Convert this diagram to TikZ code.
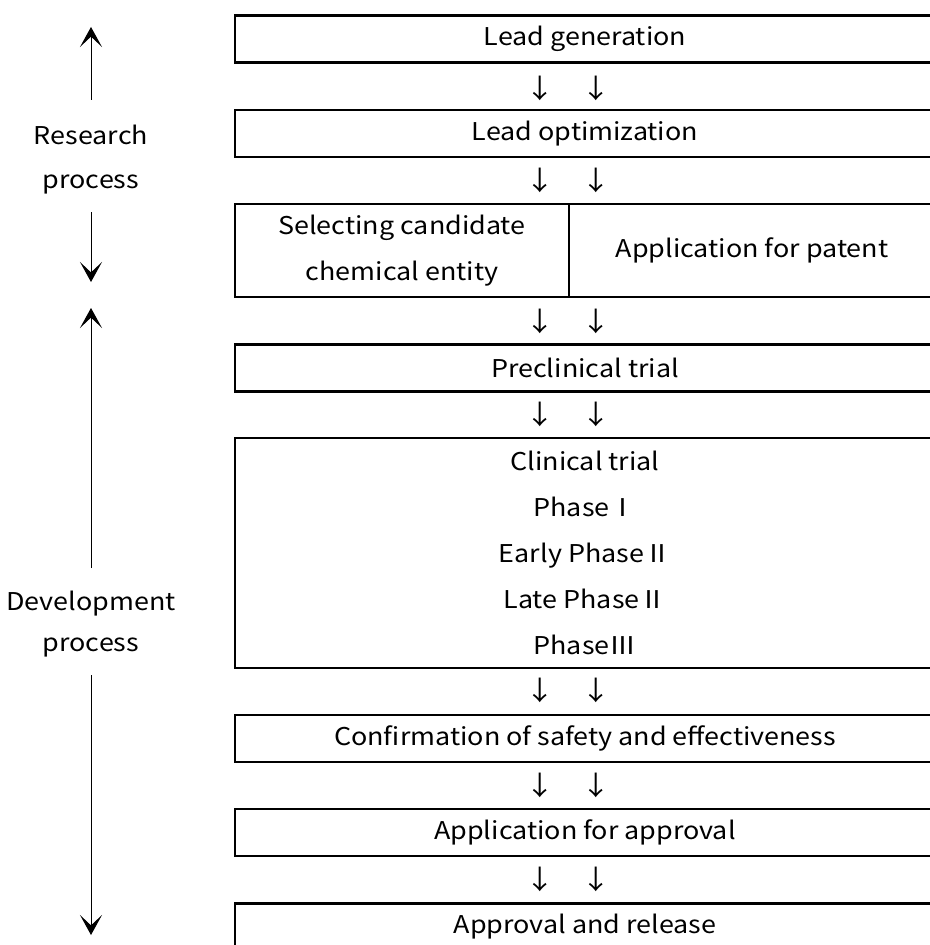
\documentclass[tikz,border=0pt]{standalone}
\usepackage{fontspec}
\setmainfont{Noto Sans CJK JP}[FakeStretch=1.1]
\usetikzlibrary{arrows.meta}
\begin{document}
\begin{tikzpicture}[x=0.25mm,y=-0.25mm,font=\fontsize{17.4}{32.7}\selectfont,
  stage/.style={draw,line width=1.8pt,minimum width=175mm,minimum height=11.75mm,inner sep=0pt,align=center},
  dn/.style={inner sep=0pt,font=\fontsize{19}{20}\selectfont},
  lbl/.style={inner sep=0pt,anchor=base},
  arr/.style={line width=0.7pt,-{Stealth[length=5mm,width=5.5mm,inset=2.6mm]}}]
\def\arrl{540}
\def\arrr{596}
\def\mid{585}

\useasboundingbox (0,0) rectangle (930,945);
\clip (0,0) rectangle (930,945);

\node[stage] (leadgen) at (\mid,39) {Lead generation};
\node[stage] (leadopt) at (\mid,133.5) {Lead optimization};
\node[stage,minimum width=83.5mm,minimum height=23.25mm] (select) at (402,250.5) {Selecting candidate\\chemical entity};
\node[stage,minimum width=91.5mm,minimum height=23.25mm] (patent) at (752,250.5) {Application for patent};
\node[stage] (preclin) at (\mid,368) {Preclinical trial};
\node[stage,minimum height=57.5mm] (clinical) at (\mid,553) {Clinical trial\\PhaseⅠ\\Early PhaseⅡ\\Late PhaseⅡ\\PhaseⅢ};
\node[stage] (confirm) at (\mid,738.5) {Confirmation of safety and effectiveness};
\node[stage] (apply) at (\mid,832.5) {Application for approval};
\node[stage] (release) at (\mid,927) {Approval and release};

\foreach \y [count=\i] in {88,180.5,321,414.5,690,785,879}{
  \node[dn] (dl\i) at (\arrl,\y) {↓};
  \node[dn] (dr\i) at (\arrr,\y) {↓};
}

\node[lbl] (research) at (91,144) {Research};
\node[lbl] (rproc) at (91,188) {process};
\node[lbl] (develop) at (91,610) {Development};
\node[lbl] (dproc) at (91,651) {process};

\coordinate (rtop) at (91,27);
\coordinate (rbot) at (91,282);
\coordinate (dtop) at (91,308);
\coordinate (dbot) at (91,935);
\draw[arr] (research.base) ++(0,-44) -- (rtop);
\draw[arr] (rproc.base) ++(0,24) -- (rbot);
\draw[arr] (develop.base) ++(0,-42) -- (dtop);
\draw[arr] (dproc.base) ++(0,24) -- (dbot);
\end{tikzpicture}
\end{document}
